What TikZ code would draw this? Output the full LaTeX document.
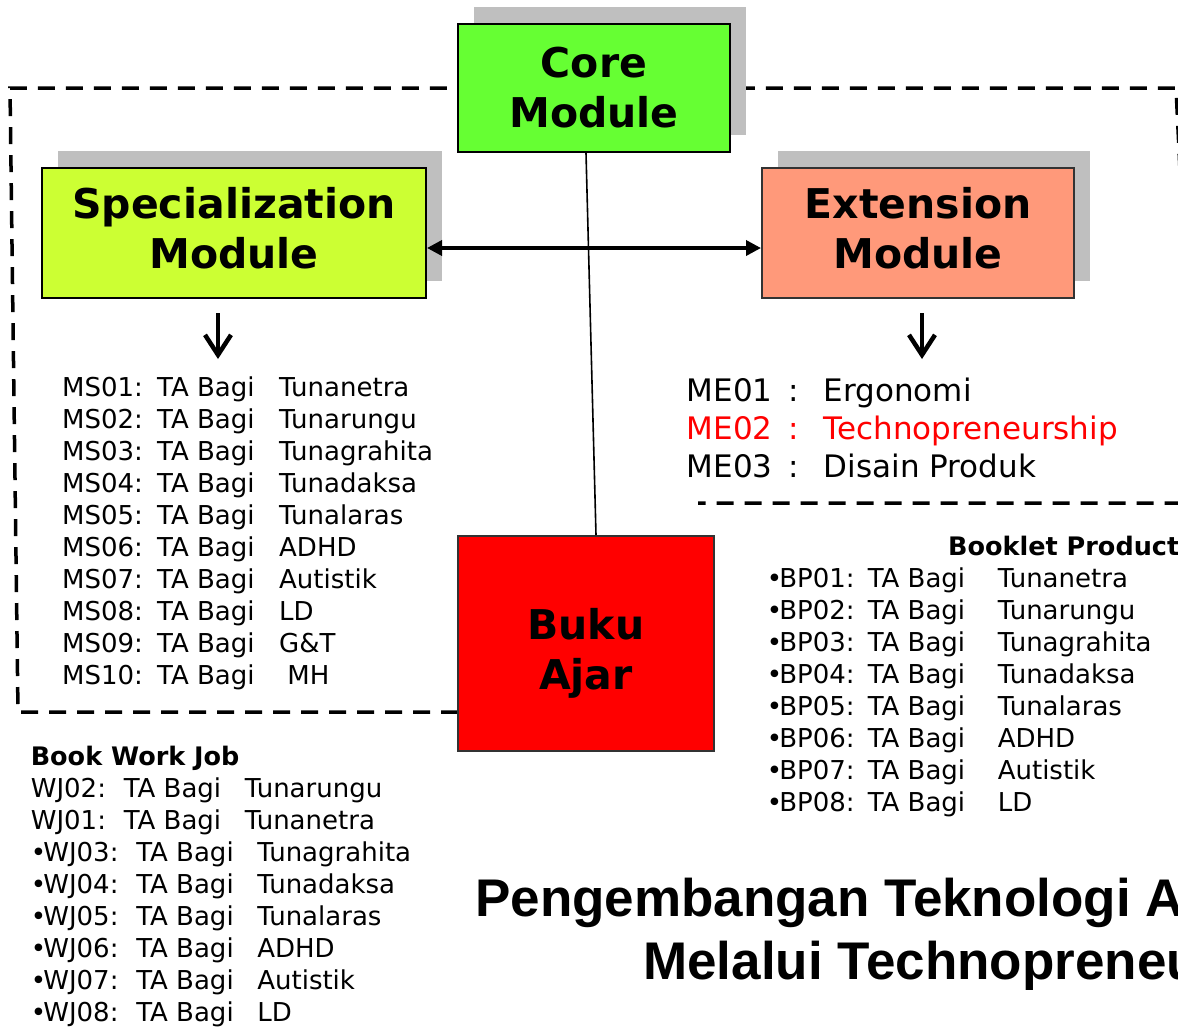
\documentclass[tikz,border=0pt]{standalone}
\usepackage{fontspec}
\setmainfont{DejaVu Sans}
\newfontfamily\titlefont{Liberation Sans}
\usetikzlibrary{arrows.meta,
                shadows}
\definecolor{coregreen}{HTML}{66FF33}
\definecolor{specgreen}{HTML}{CCFF33}
\definecolor{extsalmon}{HTML}{FF997A}
\definecolor{shadowgray}{HTML}{BFBFBF}
\definecolor{edgegray}{HTML}{333333}

\newlength\colA
\newlength\colB
\newcommand{\setcols}[2]{\global\colA=#1\relax\global\colB=#2\relax}
\newcommand{\tarow}[3]{\makebox[\colA][l]{#1}\makebox[\colB][l]{#2}#3}
\newcommand{\bul}{\makebox[12.5pt][l]{•}}

\begin{document}
\begin{tikzpicture}[x=1pt, y=-1pt,
module/.style = {draw, line width=2pt, align=center,
                 font=\bfseries\fontsize{41}{50}\selectfont,
                 text height=81pt, text depth=11pt},
shadowed/.style = {drop shadow={shadow xshift=16pt, shadow yshift=17pt,
                                fill=shadowgray, opacity=1}},
list/.style   = {anchor=base west, align=left, inner sep=0pt,
                 font=\fontsize{26}{32}\selectfont},
head/.style   = {anchor=base west, inner sep=0pt,
                 font=\bfseries\fontsize{25.5}{32}\selectfont},
title/.style  = {anchor=base west, inner sep=0pt,
                 font=\titlefont\bfseries\fontsize{53}{53}\selectfont},
frame/.style  = {line width=3.5pt, dash pattern=on 17pt off 11pt},
twoway/.style = {{Triangle[length=15pt,width=15pt]}-{Triangle[length=15pt,width=15pt]},
                 line width=3.5pt},
pointer/.style = {-{Straight Barb[length=20pt,width=26pt]}, line width=4.5pt}
                   ]
\useasboundingbox (0,0) rectangle (1178,1026);
\clip (0,0) rectangle (1178,1026);

% dashed frame round the modules
\draw[frame] (458,712) -- (18,712) -- (10,88) -- (1176,88)
             -- (1196,503) -- (698,503);

% modules
\node[module, shadowed, fill=coregreen, minimum width=272pt, minimum height=128pt,
      text depth=3pt] (core) at (594,88) {Core\\Module};
\node[module, shadowed, fill=specgreen, minimum width=384pt, minimum height=130pt]
      (spec) at (234,233) {Specialization\\Module};
\node[module, shadowed, fill=extsalmon, draw=edgegray, minimum width=312pt,
      minimum height=130pt] (ext) at (918,233) {Extension\\Module};
\node[module, fill=red, draw=edgegray, minimum width=256pt, minimum height=215pt,
      text height=91pt, text depth=0pt] (buku) at (586,643.5) {Buku\\Ajar};

\draw[line width=1.6pt] ([xshift=-8pt]core.south) -- ([xshift=10pt]buku.north);
\draw[twoway] ([yshift=-15pt]spec.east) -- ([yshift=-15pt]ext.west);
\draw[pointer] ([xshift=-16pt,yshift=-14pt]spec.south)
            -- ([xshift=-16pt,yshift=-60pt]spec.south);
\draw[pointer] ([xshift=4pt,yshift=-14pt]ext.south)
            -- ([xshift=4pt,yshift=-60pt]ext.south);

% lists (base = last line)
\node[list] (mslist) at (62,684) {\setcols{95pt}{122pt}%
  \tarow{MS01:}{TA Bagi}{Tunanetra}\\
  \tarow{MS02:}{TA Bagi}{Tunarungu}\\
  \tarow{MS03:}{TA Bagi}{Tunagrahita}\\
  \tarow{MS04:}{TA Bagi}{Tunadaksa}\\
  \tarow{MS05:}{TA Bagi}{Tunalaras}\\
  \tarow{MS06:}{TA Bagi}{ADHD}\\
  \tarow{MS07:}{TA Bagi}{Autistik}\\
  \tarow{MS08:}{TA Bagi}{LD}\\
  \tarow{MS09:}{TA Bagi}{G\&T}\\
  \tarow{MS10:}{TA Bagi}{\ MH}};
\node[list, font=\fontsize{31}{38}\selectfont] (melist) at (686.6,477)
  {\setcols{101.5pt}{35.5pt}%
  \tarow{ME01}{:}{Ergonomi}\\
  {\color{red}\tarow{ME02}{:}{Technopreneurship}}\\
  \tarow{ME03}{:}{Disain Produk}};

\node[head] (bphead) at (948,555) {Booklet Product};
\node[list] (bplist) at (766.6,811) {\setcols{88.5pt}{130pt}%
  \bul\tarow{BP01:}{TA Bagi}{Tunanetra}\\
  \bul\tarow{BP02:}{TA Bagi}{Tunarungu}\\
  \bul\tarow{BP03:}{TA Bagi}{Tunagrahita}\\
  \bul\tarow{BP04:}{TA Bagi}{Tunadaksa}\\
  \bul\tarow{BP05:}{TA Bagi}{Tunalaras}\\
  \bul\tarow{BP06:}{TA Bagi}{ADHD}\\
  \bul\tarow{BP07:}{TA Bagi}{Autistik}\\
  \bul\tarow{BP08:}{TA Bagi}{LD}};

\node[head] (wjhead) at (30.6,765) {Book Work Job};
\node[list] (wjlist) at (30.6,1021) {\setcols{93pt}{121pt}%
  \tarow{WJ02:}{TA Bagi}{Tunarungu}\\
  \tarow{WJ01:}{TA Bagi}{Tunanetra}\\
  \bul\tarow{WJ03:}{TA Bagi}{Tunagrahita}\\
  \bul\tarow{WJ04:}{TA Bagi}{Tunadaksa}\\
  \bul\tarow{WJ05:}{TA Bagi}{Tunalaras}\\
  \bul\tarow{WJ06:}{TA Bagi}{ADHD}\\
  \bul\tarow{WJ07:}{TA Bagi}{Autistik}\\
  \bul\tarow{WJ08:}{TA Bagi}{LD}};

% title
\node[title] (title1) at (475,916) {Pengembangan Teknologi A};
\node[title] (title2) at (643,979) {Melalui Technopreneu};

\end{tikzpicture}
\end{document}
